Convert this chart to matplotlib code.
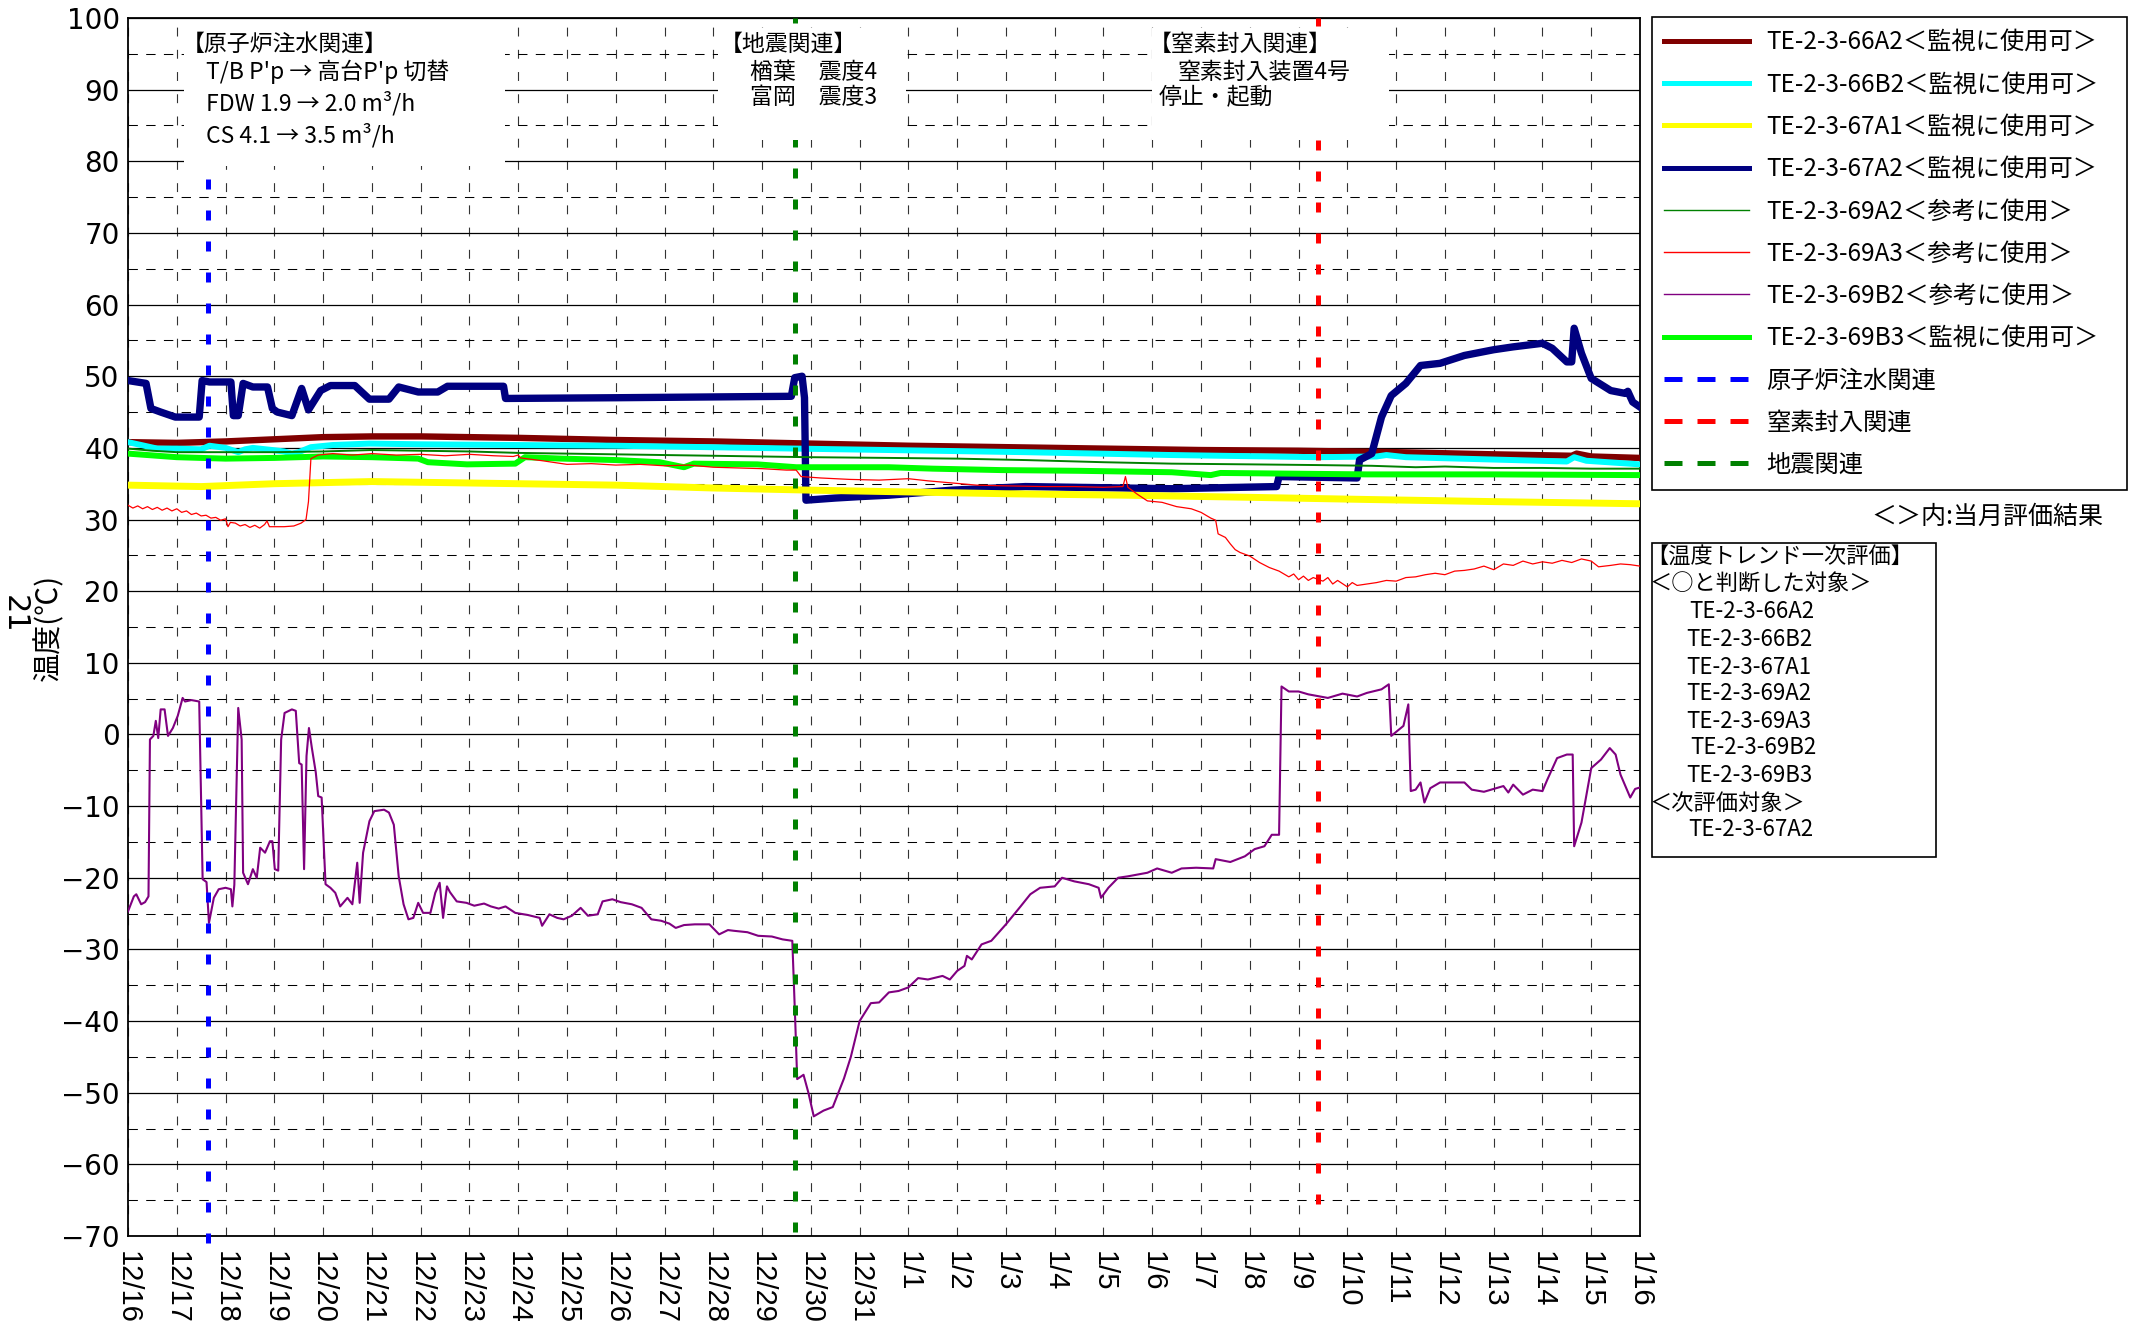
import numpy as np
import matplotlib.pyplot as plt
from matplotlib.patches import Rectangle

plt.rcParams['font.family'] = ['Noto Sans CJK JP', 'DejaVu Sans']

W, H = 2134, 1337

# x = days since 12/16 0:00
date_labels = ['12/16', '12/17', '12/18', '12/19', '12/20', '12/21', '12/22', '12/23',
               '12/24', '12/25', '12/26', '12/27', '12/28', '12/29', '12/30', '12/31',
               '1/1', '1/2', '1/3', '1/4', '1/5', '1/6', '1/7', '1/8', '1/9', '1/10',
               '1/11', '1/12', '1/13', '1/14', '1/15', '1/16']

s_66a2 = np.array([(0, 40.8), (1, 40.7), (2, 40.9), (3, 41.2), (4, 41.5), (5, 41.6), (6, 41.6),
                   (7, 41.5), (8, 41.4), (10, 41.1), (12, 40.9), (14, 40.6), (16, 40.3), (18, 40.1),
                   (20, 39.9), (22, 39.7), (24, 39.6), (26, 39.4), (28, 39.1), (29.6, 38.9),
                   (29.7, 39.2), (30, 38.8), (31, 38.6)])
s_66b2 = np.array([(0, 40.8), (0.27, 40.4), (0.6, 39.9), (1.0, 39.9), (1.5, 39.8), (1.67, 40.3),
                   (2.0, 40.0), (2.26, 39.4), (2.4, 39.8), (2.56, 40.0), (2.96, 39.7), (3.2, 39.5),
                   (3.36, 39.2), (3.5, 39.4), (3.75, 40.1), (4.2, 40.4), (4.95, 40.6), (6, 40.5),
                   (7.94, 40.4), (10, 40.3), (11.9, 40.1), (13.7, 39.9), (15.6, 39.7), (18.4, 39.4),
                   (21.4, 39.0), (24.4, 38.7), (25.6, 38.8), (25.8, 39.0), (26.2, 38.7), (28.4, 38.3),
                   (29.5, 38.1), (29.65, 38.7), (29.9, 38.2), (31, 37.7)])
s_67a1 = np.array([(0, 34.8), (1.5, 34.6), (3, 35.0), (5, 35.3), (8, 35.0), (10, 34.8), (12, 34.4),
                   (14, 34.1), (15.6, 33.9), (18, 33.6), (20.4, 33.4), (23, 33.1), (25.4, 32.8),
                   (28, 32.5), (31, 32.2)])
s_67a2 = np.array([(0, 49.4), (0.37, 49.0), (0.47, 45.5), (0.67, 45.0), (0.97, 44.3), (1.46, 44.3),
                   (1.52, 49.4), (1.67, 49.2), (2.11, 49.2), (2.16, 44.5), (2.26, 44.5), (2.36, 49.0),
                   (2.56, 48.5), (2.86, 48.5), (2.96, 45.5), (3.06, 45.0), (3.36, 44.5), (3.56, 48.3),
                   (3.7, 45.3), (3.95, 48.0), (4.15, 48.7), (4.65, 48.7), (4.95, 46.8), (5.35, 46.8),
                   (5.55, 48.5), (5.95, 47.8), (6.35, 47.8), (6.55, 48.6), (7.7, 48.6), (7.74, 46.9),
                   (10, 47.0), (13.6, 47.2), (13.67, 49.8), (13.82, 50.0), (13.87, 47.0), (13.9, 32.7),
                   (14.5, 33.0), (15.0, 33.2), (15.6, 33.4), (16.9, 34.1), (18.4, 34.6), (21.4, 34.3),
                   (23.55, 34.6), (23.6, 36.0), (25.2, 35.8), (25.25, 38.3), (25.5, 39.2), (25.7, 44.3),
                   (25.9, 47.3), (26.2, 49.0), (26.5, 51.5), (26.9, 51.8), (27.4, 52.9), (28.0, 53.7),
                   (28.4, 54.1), (29.0, 54.6), (29.2, 53.9), (29.5, 52.0), (29.6, 52.0), (29.65, 56.7),
                   (29.8, 53.2), (30.0, 49.7), (30.4, 48.0), (30.7, 47.6), (30.75, 47.9), (30.85, 46.4),
                   (31.0, 45.7)])
s_69a2 = np.array([(0, 39.9), (0.5, 39.6), (1, 39.4), (2, 39.4), (3, 39.4), (4, 39.5), (5, 39.7),
                   (6, 39.6), (7, 39.5), (8, 39.3), (9, 39.2), (10, 39.1), (11, 39.0), (12, 38.9),
                   (13, 38.8), (14, 38.7), (15.6, 38.6), (17, 38.5), (18.4, 38.3), (20, 38.0),
                   (21.4, 37.8), (23, 37.7), (24.4, 37.6), (25.5, 37.5), (26.4, 37.3), (27, 37.4),
                   (28, 37.2), (29, 37.2), (30, 37.1), (31, 37.1)])
s_69a3 = np.array([(0.0, 32.0), (0.1, 31.6), (0.2, 31.9), (0.3, 31.5), (0.4, 31.8), (0.5, 31.4),
                   (0.6, 31.7), (0.7, 31.3), (0.8, 31.6), (0.9, 31.2), (1.0, 31.5), (1.1, 31.0),
                   (1.2, 31.2), (1.3, 30.7), (1.4, 30.9), (1.5, 30.5), (1.6, 30.6), (1.7, 30.2),
                   (1.8, 30.3), (1.9, 29.9), (2.0, 30.1), (2.05, 29.0), (2.1, 29.6), (2.2, 29.5),
                   (2.3, 29.1), (2.4, 29.3), (2.5, 28.9), (2.6, 29.2), (2.7, 28.8), (2.8, 29.3),
                   (2.85, 29.8), (2.9, 29.0), (3.0, 29.0), (3.2, 29.0), (3.4, 29.1), (3.55, 29.5),
                   (3.65, 30.0), (3.7, 32.5), (3.75, 38.5), (3.9, 39.0), (4.2, 39.2), (4.6, 39.0),
                   (5.0, 39.2), (5.5, 39.0), (6.0, 39.1), (6.5, 38.9), (7.0, 39.1), (7.5, 38.9),
                   (7.9, 38.8), (8.0, 39.0), (8.05, 38.6), (8.5, 38.2), (9.0, 37.7), (9.5, 37.8),
                   (10.0, 37.6), (10.5, 37.7), (11.0, 37.5), (11.5, 37.6), (12.0, 37.3), (12.5, 37.2),
                   (13.0, 37.1), (13.5, 36.9), (13.7, 36.9), (13.8, 36.0), (14.2, 35.8), (14.8, 35.6),
                   (15.4, 35.5), (16.0, 35.7), (16.4, 35.4), (16.9, 35.1), (17.4, 34.8), (18.0, 34.7),
                   (18.8, 34.6), (19.4, 34.6), (20.0, 34.5), (20.4, 34.6), (20.45, 36.0), (20.5, 34.5),
                   (20.7, 33.5), (20.9, 32.6), (21.2, 32.4), (21.5, 31.8), (21.8, 31.5), (22.0, 31.0),
                   (22.2, 30.2), (22.3, 29.9), (22.35, 28.0), (22.5, 27.5), (22.6, 26.6), (22.7, 25.8),
                   (22.8, 25.4), (23.0, 24.9), (23.2, 24.0), (23.4, 23.3), (23.6, 22.8), (23.8, 22.0),
                   (23.9, 22.4), (24.0, 21.6), (24.1, 22.1), (24.2, 21.5), (24.3, 21.9), (24.5, 21.4),
                   (24.6, 21.9), (24.7, 21.0), (24.8, 21.5), (25.0, 20.6), (25.1, 21.2), (25.2, 20.8),
                   (25.4, 21.0), (25.6, 21.2), (25.8, 21.5), (26.0, 21.4), (26.2, 21.9), (26.4, 22.0),
                   (26.6, 22.3), (26.8, 22.5), (27.0, 22.3), (27.2, 22.8), (27.4, 22.9), (27.6, 23.1),
                   (27.8, 23.5), (28.0, 23.0), (28.2, 23.8), (28.4, 23.6), (28.6, 24.2), (28.8, 23.8),
                   (29.0, 24.1), (29.2, 23.9), (29.4, 24.3), (29.6, 24.0), (29.8, 24.5), (30.0, 24.2),
                   (30.15, 23.4), (30.4, 23.6), (30.6, 23.8), (30.8, 23.7), (31.0, 23.5)])
s_69b2 = np.array([(0, -24.7), (0.12, -22.6), (0.17, -22.3), (0.27, -23.7), (0.35, -23.4), (0.42, -22.6),
                   (0.45, -0.7), (0.52, -0.2), (0.57, 1.9), (0.62, -0.5), (0.67, 3.5), (0.75, 3.5),
                   (0.82, -0.2), (0.92, 0.9), (1.02, 2.6), (1.12, 5.1), (1.17, 4.6), (1.3, 4.8),
                   (1.46, 4.6), (1.53, -20.2), (1.61, -20.6), (1.66, -26.3), (1.76, -22.8), (1.86, -21.6),
                   (2.0, -21.4), (2.11, -21.6), (2.14, -24.0), (2.18, -21.0), (2.26, 3.7), (2.33, -0.7),
                   (2.36, -19.3), (2.46, -20.9), (2.56, -18.8), (2.64, -20.0), (2.71, -15.8), (2.81, -16.5),
                   (2.91, -14.9), (2.96, -14.9), (3.01, -18.8), (3.08, -19.0), (3.14, -0.7), (3.21, 3.0),
                   (3.36, 3.5), (3.44, 3.3), (3.51, -4.0), (3.56, -4.2), (3.61, -18.8), (3.66, -3.0),
                   (3.71, 0.9), (3.77, -1.9), (3.85, -5.3), (3.9, -8.6), (3.97, -8.8), (4.05, -20.9),
                   (4.15, -21.4), (4.25, -22.1), (4.35, -24.0), (4.5, -22.8), (4.6, -23.7), (4.7, -17.9),
                   (4.75, -23.5), (4.82, -16.5), (4.95, -12.1), (5.05, -10.7), (5.25, -10.5), (5.35, -10.9),
                   (5.45, -12.6), (5.55, -19.8), (5.65, -23.7), (5.75, -25.8), (5.85, -25.6), (5.95, -23.5),
                   (6.05, -24.9), (6.2, -24.9), (6.3, -22.1), (6.39, -20.7), (6.46, -25.6), (6.54, -21.2),
                   (6.6, -22.0), (6.74, -23.3), (6.94, -23.5), (7.1, -23.9), (7.3, -23.6), (7.44, -24.0),
                   (7.6, -24.3), (7.74, -24.0), (7.94, -24.9), (8.2, -25.2), (8.44, -25.6), (8.49, -26.7),
                   (8.64, -25.1), (8.8, -25.6), (8.93, -25.8), (9.1, -25.3), (9.28, -24.2), (9.43, -25.3),
                   (9.63, -25.1), (9.73, -23.3), (9.93, -23.0), (10.1, -23.4), (10.33, -23.7), (10.53, -24.2),
                   (10.73, -25.8), (10.93, -26.0), (11.1, -26.4), (11.23, -27.0), (11.4, -26.6), (11.62, -26.5),
                   (11.92, -26.5), (12.12, -27.9), (12.3, -27.3), (12.42, -27.4), (12.7, -27.6), (12.92, -28.1),
                   (13.2, -28.2), (13.42, -28.6), (13.62, -28.8), (13.68, -40.0), (13.72, -48.1), (13.85, -47.5),
                   (13.95, -50.0), (14.06, -53.3), (14.26, -52.5), (14.45, -52.0), (14.68, -48.0), (14.82, -45.0),
                   (15.0, -40.0), (15.23, -37.5), (15.4, -37.4), (15.6, -36.0), (15.8, -35.8), (16.0, -35.3),
                   (16.2, -34.0), (16.4, -34.2), (16.7, -33.7), (16.85, -34.2), (17.0, -33.0), (17.15, -32.3),
                   (17.2, -30.9), (17.3, -31.4), (17.5, -29.3), (17.7, -28.8), (18.0, -26.5), (18.3, -24.0),
                   (18.5, -22.3), (18.7, -21.4), (19.0, -21.2), (19.15, -20.0), (19.4, -20.5), (19.7, -20.9),
                   (19.9, -21.4), (19.95, -22.8), (20.1, -21.4), (20.3, -20.0), (20.5, -19.8), (20.9, -19.3),
                   (21.1, -18.7), (21.4, -19.3), (21.6, -18.7), (21.9, -18.6), (22.25, -18.7), (22.3, -17.4),
                   (22.6, -17.8), (22.9, -17.0), (23.1, -16.0), (23.3, -15.6), (23.45, -14.0), (23.6, -14.0),
                   (23.65, 6.7), (23.8, 6.0), (24.0, 6.0), (24.2, 5.6), (24.6, 5.1), (24.9, 5.7),
                   (25.2, 5.3), (25.4, 5.8), (25.7, 6.3), (25.85, 7.0), (25.9, -0.2), (26.15, 1.2),
                   (26.25, 4.2), (26.3, -7.9), (26.4, -7.7), (26.5, -6.7), (26.58, -9.5), (26.7, -7.5),
                   (26.9, -6.7), (27.4, -6.7), (27.55, -7.7), (27.8, -8.0), (28.2, -7.2), (28.3, -8.1),
                   (28.4, -7.0), (28.6, -8.4), (28.8, -7.7), (29.0, -7.9), (29.1, -6.3), (29.3, -3.3),
                   (29.5, -2.8), (29.62, -2.8), (29.65, -15.6), (29.8, -12.3), (30.0, -4.7), (30.2, -3.5),
                   (30.38, -1.9), (30.5, -2.8), (30.6, -5.6), (30.8, -8.8), (30.9, -7.6), (31.0, -7.4)])
s_69b3 = np.array([(0, 39.2), (1, 38.7), (2, 38.5), (3, 38.6), (4, 38.8), (5, 38.7), (5.95, 38.5),
                   (6.15, 38.0), (6.95, 37.7), (7.94, 37.8), (8.14, 38.7), (8.9, 38.5), (10, 38.3),
                   (10.9, 38.0), (11.4, 37.3), (11.6, 37.8), (12.9, 37.7), (13.7, 37.3), (15.6, 37.3),
                   (16.5, 37.1), (17.9, 36.9), (19.5, 36.8), (21.4, 36.6), (22.2, 36.2), (22.4, 36.5),
                   (25.4, 36.3), (28, 36.3), (31, 36.2)])

series_names = ['TE-2-3-66A2＜監視に使用可＞', 'TE-2-3-66B2＜監視に使用可＞',
                'TE-2-3-67A1＜監視に使用可＞', 'TE-2-3-67A2＜監視に使用可＞',
                'TE-2-3-69A2＜参考に使用＞', 'TE-2-3-69A3＜参考に使用＞',
                'TE-2-3-69B2＜参考に使用＞', 'TE-2-3-69B3＜監視に使用可＞']

# event lines (day of event)
event_names = ['原子炉注水関連', '窒素封入関連', '地震関連']
event_days = [1.63, 24.4, 13.67]

eval_lines = ['【温度トレンド一次評価】', '＜○と判断した対象＞', 'TE-2-3-66A2', 'TE-2-3-66B2',
              'TE-2-3-67A1', 'TE-2-3-69A2', 'TE-2-3-69A3', 'TE-2-3-69B2', 'TE-2-3-69B3',
              '＜次評価対象＞', 'TE-2-3-67A2']

fig = plt.figure(figsize=(W / 100, H / 100), dpi=100)
ax = fig.add_axes([128 / W, 1 - 1236 / H, 1512 / W, 1218 / H])

styles = [('#800000', 4.6, 3), ('#00FFFF', 4.3, 4), ('#FFFF00', 5.0, 6), ('#000080', 5.3, 5),
          ('#008000', 1.4, 7), ('#FF0000', 0.9, 8), ('#800080', 1.5, 8), ('#00FF00', 4.3, 6.5)]
handles = []
for s, (c, lw, z) in zip([s_66a2, s_66b2, s_67a1, s_67a2, s_69a2, s_69a3, s_69b2, s_69b3], styles):
    h, = ax.plot(s[:, 0], s[:, 1], color=c, lw=lw, zorder=z, solid_joinstyle='round')
    handles.append(h)

ev_colors = ['#0000FF', '#FF0000', '#008000']
ev_low = [-71, -65.6, -69.5]
for d, c, lo in zip(event_days, ev_colors, ev_low):
    h, = ax.plot([d, d], [lo, 100], color=c, lw=3.6, ls=(0, (2.0, 4.2)), zorder=12, clip_on=False)
    handles.append(h)

ax.set_xlim(0, 31)
ax.set_ylim(-70, 100)
ax.set_xticks(np.arange(len(date_labels)))
ax.set_xticklabels(date_labels, rotation=-90, fontsize=21, family='Liberation Sans')
ax.set_yticks(np.arange(-70, 101, 10))
ax.set_yticks(np.arange(-65, 100, 10), minor=True)
for t in ax.get_yticklabels():
    t.set_fontsize(20)
    t.set_family(['Liberation Sans Narrow', 'DejaVu Sans'])
ax.tick_params(which='both', length=0)
ax.tick_params(axis='x', pad=11)
ax.tick_params(axis='y', pad=6)

ax.grid(axis='y', which='major', color='black', lw=0.9)
ax.grid(axis='y', which='minor', color='black', lw=0.75, ls=(0, (9, 8)))
ax.grid(axis='x', which='major', color='#333333', lw=0.8, ls=(0, (8, 12)))
ax.set_axisbelow(True)
for sp in ax.spines.values():
    sp.set_linewidth(1.3)

ax.set_ylabel('温度(℃)', fontsize=21)
ax.yaxis.set_label_coords(-64 / 1512, 0.5)
fig.text(14 / W, 1 - 614 / H, '21', rotation=-90, fontsize=22, ha='center', va='center',
         family=['Liberation Sans Narrow', 'DejaVu Sans'])

# white boxes with event notes
for x0, x1, y0, y1 in [(1.15, 7.73, 79.3, 99.7), (12.1, 15.95, 83.0, 98.6), (21.0, 25.86, 83.0, 98.6)]:
    ax.add_patch(Rectangle((x0, y0), x1 - x0, y1 - y0, facecolor='white', edgecolor='none', zorder=13))
notes = [('【原子炉注水関連】', 1.1, 96.3), ("T/B P'p → 高台P'p 切替", 1.6, 92.5),
         ('FDW 1.9 → 2.0 m³/h', 1.6, 88.1), ('CS 4.1 → 3.5 m³/h', 1.6, 83.6),
         ('【地震関連】', 12.14, 96.3), ('楢葉　震度4', 12.76, 92.4), ('富岡　震度3', 12.76, 88.9),
         ('【窒素封入関連】', 20.93, 96.3), ('窒素封入装置4号', 21.53, 92.4), ('停止・起動', 21.14, 88.9)]
for txt, x, y in notes:
    ax.text(x, y, txt, fontsize=16.5, ha='left', va='center', zorder=14)

leg = ax.legend(handles, series_names + event_names, loc='upper left',
                bbox_to_anchor=(1652 / W, 0, 475 / W, 1 - 17 / H), bbox_transform=fig.transFigure,
                mode='expand', fontsize=17.5, handlelength=3.5, handletextpad=0.7,
                labelspacing=0.67, borderpad=0.5, borderaxespad=0, fancybox=False,
                edgecolor='black', framealpha=1)
leg.get_frame().set_linewidth(1.2)
leg_lw = [3.6, 3.6, 3.6, 3.6, 1.0, 1.0, 1.0, 3.6, 3.6, 3.6, 3.6]
for ln, lw in zip(leg.get_lines(), leg_lw):
    ln.set_linewidth(lw)
for ln in leg.get_lines()[8:]:
    ln.set_linestyle((0, (3.6, 3.0)))

fig.text(2103 / W, 1 - 517 / H, '＜＞内:当月評価結果', fontsize=18, ha='right', va='center')

fig.add_artist(Rectangle((1652 / W, 1 - 857 / H), 284 / W, 314 / H, transform=fig.transFigure,
                         fill=False, edgecolor='black', lw=1.2))
ev_x = [1646, 1650, 1689, 1686, 1686, 1686, 1686, 1690, 1686, 1650, 1688]
ev_y = [557, 584, 612, 639, 667, 693, 721, 748, 776, 803, 830]
for txt, x, y in zip(eval_lines, ev_x, ev_y):
    fig.text(x / W, 1 - y / H, txt, fontsize=16, ha='left', va='center')

fig.savefig('out.png', dpi=100)
